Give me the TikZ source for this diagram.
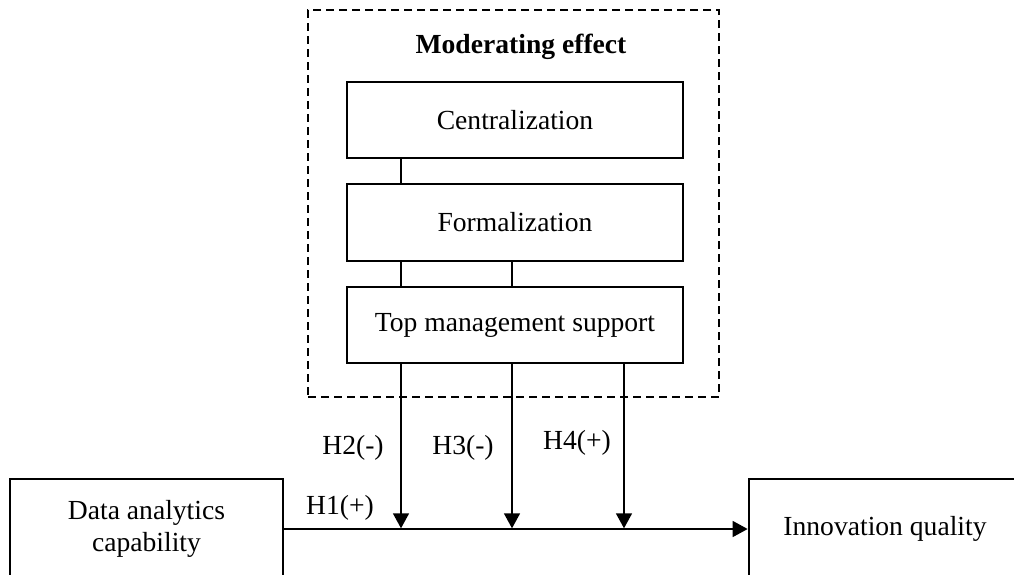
\documentclass[tikz,border=0pt]{standalone}
\usepackage{fontspec}
\setmainfont{Liberation Serif}
\usetikzlibrary{arrows.meta,calc}
\begin{document}
\begin{tikzpicture}[x=1pt,y=-1pt,
  txt/.style={font=\fontsize{27.6}{32}\selectfont},
  box/.style={draw, line width=2.7pt, minimum width=336pt, minimum height=76pt, inner sep=0pt, txt},
  dashbox/.style={draw, line width=2.4pt, dash pattern=on 8pt off 5pt, minimum width=411pt, minimum height=387pt, inner sep=0pt},
  conn/.style={line width=1.5pt},
  arr/.style={conn, -{Triangle[length=15pt,width=16pt]}}]
\useasboundingbox (0,0) rectangle (1014,574);
\clip (0,0) rectangle (1014,574);
% moderating group
\node[dashbox] (mod) at (513.5,203.5) {};
\node[txt, font=\fontsize{27.6}{32}\selectfont\bfseries] (title) at (521,47) {Moderating effect};
\node[box] (cent) at (515,120) {Centralization};
\node[box, minimum height=77pt] (form) at (515,222.5) {Formalization};
\node[box] (tms) at (515,325) {Top management support};
% main boxes
\node[box, minimum width=273pt, minimum height=100pt, align=center] (dac) at (146.5,529) {Data analytics\\capability};
\node[box, minimum width=272pt, minimum height=100pt] (iq) at (885,529) {Innovation quality};
% x positions of connectors
\coordinate (xa) at (401,0);
\coordinate (xb) at (512,0);
\coordinate (xc) at (624,0);
% links between moderators
\draw[conn] (cent.south -| xa) -- (form.north -| xa);
\draw[conn] (form.south -| xa) -- (tms.north -| xa);
\draw[conn] (form.south -| xb) -- (tms.north -| xb);
% main relation
\draw[arr] (dac.east) -- (iq.west);
\coordinate (pa) at ($(dac.east -| xa)+(0,-0.7)$);
\coordinate (pb) at ($(dac.east -| xb)+(0,-0.7)$);
\coordinate (pc) at ($(dac.east -| xc)+(0,-0.7)$);
\draw[arr] (tms.south -| xa) -- (pa);
\draw[arr] (tms.south -| xb) -- (pb);
\draw[arr] (tms.south -| xc) -- (pc);
% labels
\node[txt] (h1) at (340,508) {H1(+)};
\node[txt] (h2) at (353,448) {H2(-)};
\node[txt] (h3) at (463,448) {H3(-)};
\node[txt] (h4) at (577,443) {H4(+)};
\end{tikzpicture}
\end{document}
